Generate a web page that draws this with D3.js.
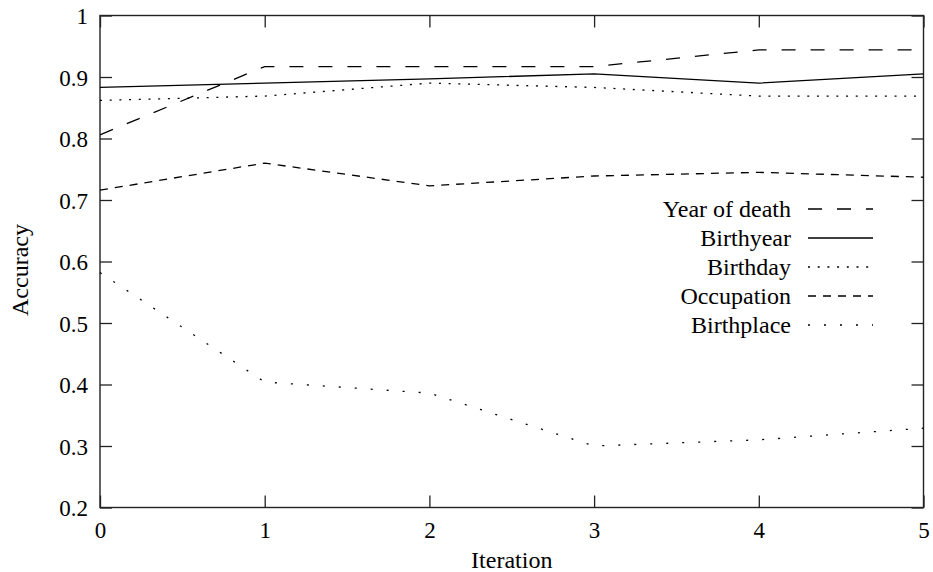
<!DOCTYPE html>
<html>
<head>
<meta charset="utf-8">
<script src="https://cdn.jsdelivr.net/npm/d3@7"></script>
<style>
  html, body { margin: 0; padding: 0; background: #fff; }
  svg { display: block; }
  text { font-family: "Liberation Serif", "Times New Roman", serif; fill: #000; }
</style>
</head>
<body>
<svg id="chart" width="933" height="572"></svg>
<script>
// Accuracy per iteration for each extracted attribute
const iterations = [0, 1, 2, 3, 4, 5];
const seriesNames = ["Year of death", "Birthyear", "Birthday", "Occupation", "Birthplace"];
const yearOfDeath = [0.806, 0.917, 0.917, 0.917, 0.944, 0.944];
const birthyear   = [0.883, 0.890, 0.897, 0.905, 0.890, 0.905];
const birthday    = [0.862, 0.869, 0.890, 0.883, 0.869, 0.869];
const occupation  = [0.716, 0.760, 0.723, 0.739, 0.745, 0.737];
const birthplace  = [0.582, 0.404, 0.386, 0.300, 0.310, 0.329];
const xTicks = [0, 1, 2, 3, 4, 5];
const yTicks = [0.2, 0.3, 0.4, 0.5, 0.6, 0.7, 0.8, 0.9, 1];

const seriesValues = [yearOfDeath, birthyear, birthday, occupation, birthplace];
const dashes = ["14,15", null, "2,7.7", "8,7", "2,14"];

const svg = d3.select("#chart");
const plotL = 100, plotR = 923.5, plotT = 15.5, plotB = 507.5;

const x = d3.scaleLinear().domain([0, 5]).range([plotL, plotR]);
const y = d3.scaleLinear().domain([0.2, 1]).range([plotB, plotT]);

const tickFont = 23;
const labelFont = 24;
const tickLen = 12;

// axes with inward ticks on all four sides
function styleAxis(g) {
  g.select(".domain").remove();
  g.selectAll(".tick line").attr("stroke", "#222").attr("stroke-width", 1.3);
  g.selectAll(".tick text").style("font-family", '"Liberation Serif", serif')
    .style("font-size", tickFont + "px").attr("fill", "#000");
}

svg.append("g").attr("transform", `translate(${plotL},0)`)
  .call(d3.axisLeft(y).tickValues(yTicks).tickSize(-tickLen).tickPadding(12)
        .tickFormat(d => d3.format("~g")(d)))
  .call(styleAxis)
  .selectAll(".tick text").attr("dy", "0.36em");

svg.append("g").attr("transform", `translate(${plotR},0)`)
  .call(d3.axisRight(y).tickValues(yTicks).tickSize(-tickLen).tickFormat(""))
  .call(styleAxis);

svg.append("g").attr("transform", `translate(0,${plotB})`)
  .call(d3.axisBottom(x).tickValues(xTicks).tickSize(-tickLen).tickPadding(14)
        .tickFormat(d3.format("d")))
  .call(styleAxis);

svg.append("g").attr("transform", `translate(0,${plotT})`)
  .call(d3.axisTop(x).tickValues(xTicks).tickSize(-tickLen).tickFormat(""))
  .call(styleAxis);

// plot border
svg.append("rect")
  .attr("x", plotL).attr("y", plotT)
  .attr("width", plotR - plotL).attr("height", plotB - plotT)
  .attr("fill", "none").attr("stroke", "#222").attr("stroke-width", 1.4);

// series lines
const line = d3.line().x((d, i) => x(iterations[i])).y(d => y(d));
seriesValues.forEach((vals, k) => {
  svg.append("path")
    .datum(vals)
    .attr("d", line)
    .attr("fill", "none")
    .attr("stroke", "#000")
    .attr("stroke-width", 1.3)
    .attr("stroke-dasharray", dashes[k]);
});

// axis titles
svg.append("text")
  .attr("x", (plotL + plotR) / 2).attr("y", 568)
  .attr("text-anchor", "middle")
  .style("font-size", labelFont + "px")
  .text("Iteration");

svg.append("text")
  .attr("transform", `translate(28,270) rotate(-90)`)
  .attr("text-anchor", "middle")
  .style("font-size", labelFont + "px")
  .text("Accuracy");

// legend
const legend = svg.append("g");
seriesNames.forEach((name, k) => {
  const cy = 209 + k * 29;
  legend.append("text")
    .attr("x", 791).attr("y", cy + 8)
    .attr("text-anchor", "end")
    .style("font-size", labelFont + "px")
    .text(name);
  legend.append("line")
    .attr("x1", 808).attr("x2", 873)
    .attr("y1", cy).attr("y2", cy)
    .attr("stroke", "#000").attr("stroke-width", 1.3)
    .attr("stroke-dasharray", dashes[k]);
});
</script>
</body>
</html>
